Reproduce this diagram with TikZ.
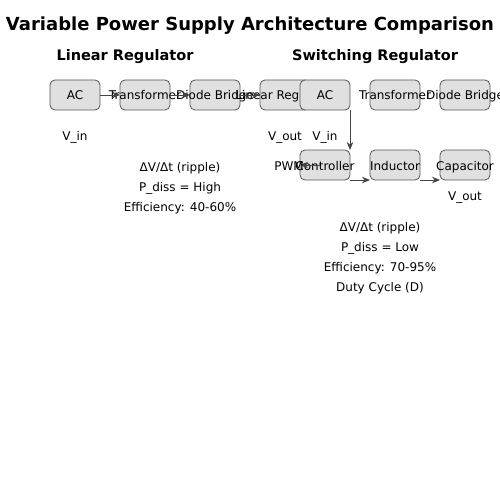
\documentclass[tikz,border=0pt]{standalone}
\usepackage{fontspec}
\setmainfont{DejaVu Sans}
\usepackage{xcolor}
\usepackage{tikz}
\usetikzlibrary{arrows.meta,positioning}

\definecolor{boxfill}{HTML}{E0E0E0}
\definecolor{boxline}{HTML}{555555}
\definecolor{wire}{HTML}{444444}
\newcommand{\ovr}[1]{\makebox[0pt]{#1}}

\begin{document}
\begin{tikzpicture}[
  x=1pt, y=-1pt,
  node distance=20pt,
  box/.style={draw=boxline, fill=boxfill, rounded corners=5pt, line width=0.8pt,
    minimum width=50pt, minimum height=30pt, inner sep=0pt, outer sep=0pt,
    text height=10pt, text depth=0pt,
    font=\fontsize{12}{14}\selectfont},
  lbl/.style={inner sep=0pt, text height=10pt, text depth=0pt, font=\fontsize{12}{14}\selectfont},
  note/.style={inner sep=0pt, align=center, font=\fontsize{12}{20}\selectfont},
  head/.style={inner sep=0pt, font=\fontsize{14.5}{17}\selectfont\bfseries},
  >={Stealth[length=8pt, width=6.5pt]},
  wirestyle/.style={->, draw=wire, line width=0.9pt}
]
  \useasboundingbox (0,0) rectangle (500,500);

  % titles
  \node[inner sep=0pt, font=\fontsize{18}{21}\selectfont\bfseries] (title) at (250,26) {Variable Power Supply Architecture Comparison};
  \node[head] (linhead) at (125,57) {Linear Regulator};
  \node[head] (swhead) at (375,57) {Switching Regulator};

  % linear regulator chain
  \node[box] (acL) at (75,95) {\ovr{AC}};
  \node[box, right=of acL] (trL) {\ovr{Transformer}};
  \node[box, right=of trL] (dbL) {\ovr{Diode Bridge}};
  \node[box, right=of dbL] (lreg) {\ovr{Linear Reg\phantom{ulator}}};
  \draw[wirestyle] (acL) -- (trL);
  \draw[wirestyle] (trL) -- (dbL);
  \draw[wirestyle] (dbL) -- (lreg);

  \node[lbl] (vinL) at (75,135) {V\_in};
  \node[lbl] (voutL) at (285,135) {V\_out};
  \node[note] (noteL) at (180,188) {ΔV/Δt (ripple)\\P\_diss = High\\Efficiency: 40-60\%};

  % switching regulator chain
  \node[box] (acR) at (325,95) {\ovr{AC}};
  \node[box, right=of acR] (trR) {\ovr{Transformer}};
  \node[box, right=of trR] (dbR) {\ovr{Diode Bridge}};
  \node[box] (pwm) at (325,165) {\ovr{Controller}};
  \node[box, right=of pwm] (ind) {\ovr{Inductor}};
  \node[box, right=of ind] (cap) {\ovr{Capacitor}};
  \draw[wirestyle] (acR.south east) -- (pwm.north east);
  \coordinate[right=20pt of pwm.west] (pwmin);
  \draw[wirestyle] (pwmin) -- (pwm.west);
  \draw[wirestyle] (pwm.south east) -- (ind.south west);
  \draw[wirestyle] (ind.south east) -- (cap.south west);

  \node[lbl] (vinR) at (325,135) {V\_in};
  \node[lbl, anchor=east] (pwmlbl) at (304,165) {PWM};
  \node[lbl] (voutR) at (465,195) {V\_out};
  \node[note] (noteR) at (380,258) {ΔV/Δt (ripple)\\P\_diss = Low\\Efficiency: 70-95\%\\Duty Cycle (D)};
\end{tikzpicture}
\end{document}
